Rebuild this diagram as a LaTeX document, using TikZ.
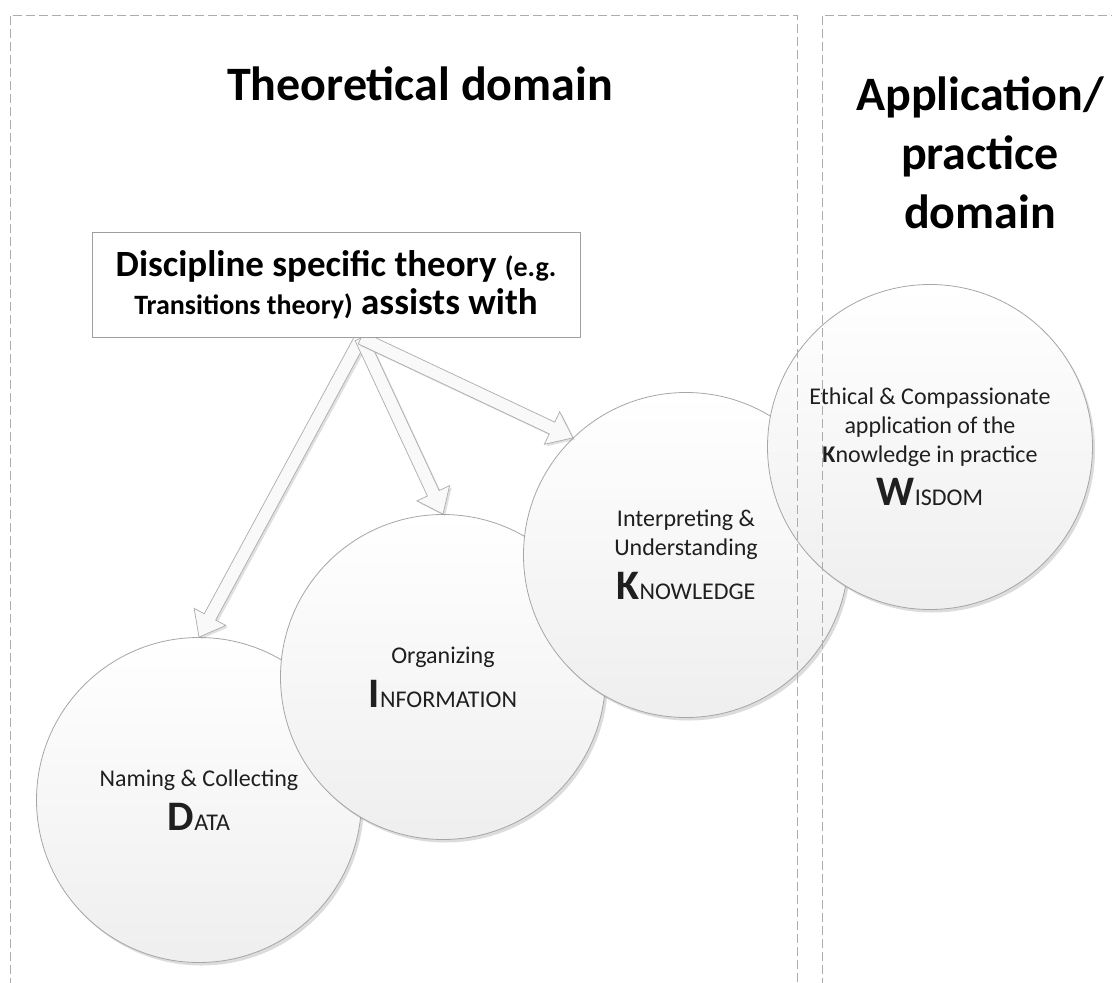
\documentclass[tikz,border=0pt]{standalone}
\usepackage{fontspec}
\setmainfont{Carlito}
\usetikzlibrary{calc,shadows}
\newcommand{\blockarr}[3]{%
  \coordinate (#3h) at ($(#2)!23pt!(#1)$);
  \draw[barrow] ($(#1)!6.5pt!90:(#2)$) -- ($(#3h)!6.5pt!90:(#2)$) -- ($(#3h)!18pt!90:(#2)$) -- (#2)
     -- ($(#3h)!18pt!-90:(#2)$) -- ($(#3h)!6.5pt!-90:(#2)$) -- ($(#1)!6.5pt!-90:(#2)$) -- cycle;
}
\newcommand{\bigini}[2]{{\fontsize{42}{44}\selectfont\bfseries #1}{\fontsize{24}{26}\selectfont #2}}
\begin{document}
\begin{tikzpicture}[x=1pt,y=-1pt,
  ball/.style={circle, draw=gray!70, line width=0.8pt, minimum size=325pt, inner sep=0pt,
    top color=white, bottom color=gray!13,
    drop shadow={shadow xshift=2.5pt, shadow yshift=-3pt, fill=black!45, opacity=0.3},
    align=center, text=black!88, font=\fontsize{24}{29}\selectfont},
  barrow/.style={draw=gray!65, line width=0.7pt, fill=gray!5, line join=miter,
    drop shadow={shadow xshift=2pt, shadow yshift=-2pt, fill=black!40, opacity=0.3}},
  panel/.style={draw=gray!65, line width=0.8pt, dash pattern=on 9pt off 4pt},
  title/.style={font=\fontsize{48}{59}\selectfont\bfseries, text=black, inner sep=0pt, align=center},
  theory/.style={draw=gray!75, line width=0.8pt, fill=white, minimum width=488pt, minimum height=105pt,
    inner sep=0pt, align=center, font=\fontsize{37}{38}\selectfont\bfseries, text=black}
]
\useasboundingbox (0,0) rectangle (1112,983);
\fill[white] (0,0) rectangle (1112,983);

% titles
\node[title, anchor=base] (ttheo) at (420,100) {Theoretical domain};
\node[title] (tappl) at (980,153) {Application/\\practice\\domain};

% circles
\node[ball] (data) at (199,800) {Naming \& Collecting\\[12pt]\bigini{D}{ATA}};
\node[ball] (info) at (443,677) {Organizing\\[12pt]\bigini{I}{NFORMATION}};
\node[ball] (know) at (686,555) {Interpreting \&\\Understanding\\[12pt]\bigini{K}{NOWLEDGE}};
\node[ball] (wis) at (930,447) {Ethical \& Compassionate\\application of the\\{\bfseries K}nowledge in practice\\[11pt]\bigini{W}{ISDOM}};

% theory box and arrows
\coordinate (src) at (361,338);
\blockarr{src}{data.north}{ad}
\blockarr{src}{info.north}{ai}
\blockarr{src}{know.134}{ak}
\node[theory] (box) at (336,284.5) {Discipline specific theory {\fontsize{28}{38}\selectfont (e.g.}\\{\fontsize{28}{38}\selectfont Transitions theory)} assists with};

% domain panels
\draw[panel] (10,1000) -- (10,15) -- (797,15) -- (797,1000);
\draw[panel] (822,1000) -- (822,15) -- (1130,15);
\end{tikzpicture}
\end{document}
